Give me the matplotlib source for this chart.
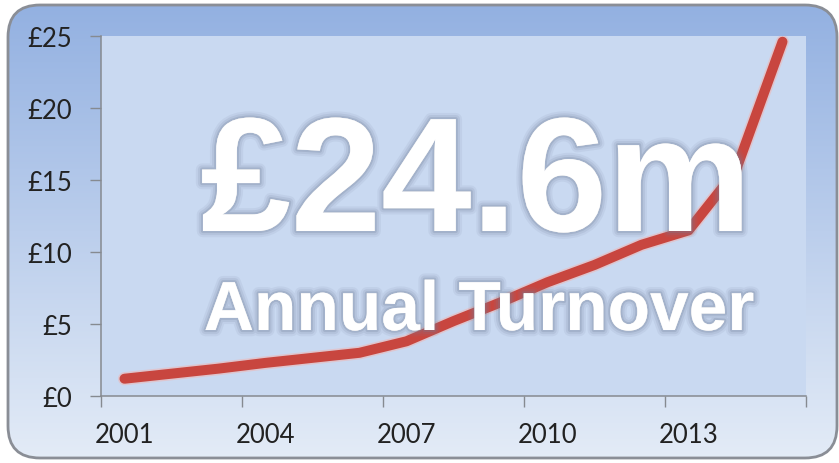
import numpy as np
import matplotlib
matplotlib.use("Agg")
import matplotlib.pyplot as plt
from matplotlib import font_manager
from matplotlib.patches import FancyBboxPatch
import matplotlib.patheffects as pe

# Turnover per year, £m
years = [2001, 2002, 2003, 2004, 2005, 2006, 2007, 2008,
         2009, 2010, 2011, 2012, 2013, 2014, 2015]
turnover = [1.2, 1.55, 1.9, 2.3, 2.65, 3.0, 3.8, 5.2,
            6.5, 7.9, 9.1, 10.5, 11.5, 15.6, 24.6]
y_ticks = [0, 5, 10, 15, 20, 25]
y_labels = ["£0", "£5", "£10", "£15", "£20", "£25"]
headline = "£24.6m"
subline = "Annual Turnover"

W, H = 839, 464
fig = plt.figure(figsize=(W / 100, H / 100), dpi=100)
fig.patch.set_facecolor("white")

# rounded panel with a blue vertical gradient behind everything
bg = fig.add_axes([0, 0, 1, 1], zorder=-5)
bg.set_xlim(0, W)
bg.set_ylim(0, H)
bg.axis("off")
panel = FancyBboxPatch((8, 5), W - 10, H - 11,
                       boxstyle="round,pad=0,rounding_size=32",
                       facecolor="none", edgecolor="#8a8e96", linewidth=2.0, zorder=3)
bg.add_patch(panel)
top = np.array([146, 176, 225]) / 255
bot = np.array([228, 236, 247]) / 255
t = np.linspace(0, 1, 256)[:, None]
grad = (top[None, :] * (1 - t) + bot[None, :] * t)[:, None, :]
img = bg.imshow(grad, extent=[0, W, 0, H], origin="upper", aspect="auto", zorder=1)
img.set_clip_path(panel)

# chart area
ax = fig.add_axes([101 / W, 67 / H, 705 / W, 360 / H])
ax.set_facecolor("#c9d9f1")
x = np.arange(len(years))
ax.plot(x, turnover, color="#c8463f", linewidth=7.2, solid_capstyle="round",
        solid_joinstyle="round",
        path_effects=[pe.Stroke(linewidth=9.5, foreground=(0.93, 0.72, 0.72, 0.6)), pe.Normal()])

ax.set_xlim(-0.5, len(years) - 0.5)
ax.set_ylim(0, 25)

for side in ["top", "right"]:
    ax.spines[side].set_visible(False)
for side in ["left", "bottom"]:
    ax.spines[side].set_color("#868a90")
    ax.spines[side].set_linewidth(1.1)

lab_font = dict(family=["Lato", "DejaVu Sans"], size=18.5, color="#222222")

ax.set_yticks(y_ticks)
ax.set_yticklabels(y_labels, **lab_font)
ax.tick_params(axis="y", length=8, width=1, color="#868a90", pad=13)

# tick marks between every third year, labels on the year itself
ax.set_xticks(np.arange(-0.5, len(years), 3))
ax.set_xticklabels([])
ax.set_xticks(x[::3], minor=True)
ax.set_xticklabels([str(y) for y in years[::3]], minor=True, **lab_font)
ax.tick_params(axis="x", which="major", length=8, width=1, color="#868a90")
ax.tick_params(axis="x", which="minor", length=0, pad=19)

# headline text over the chart, with a soft grey glow
names = {f.name for f in font_manager.fontManager.ttflist}
narrow = "Liberation Sans Narrow" if "Liberation Sans Narrow" in names else None

glow = [pe.Stroke(linewidth=9, foreground=(0.45, 0.5, 0.6, 0.10)),
        pe.Stroke(linewidth=6, foreground=(0.45, 0.5, 0.6, 0.15)),
        pe.Stroke(linewidth=3, foreground=(0.45, 0.5, 0.6, 0.25)),
        pe.Normal()]
fig.text(476 / W, 232 / H, headline, ha="center", va="baseline",
         family="Liberation Sans", weight="bold", size=117, color="white",
         path_effects=glow, zorder=10)
if narrow:
    fig.text(479 / W, 133 / H, subline, ha="center", va="baseline",
             family=narrow, weight="bold", size=60, color="white",
             path_effects=glow, zorder=10)
else:
    fig.text(479 / W, 133 / H, subline, ha="center", va="baseline",
             family="Liberation Sans", weight="bold", size=50, color="white",
             path_effects=glow, zorder=10)

fig.savefig("out.png", dpi=100)
